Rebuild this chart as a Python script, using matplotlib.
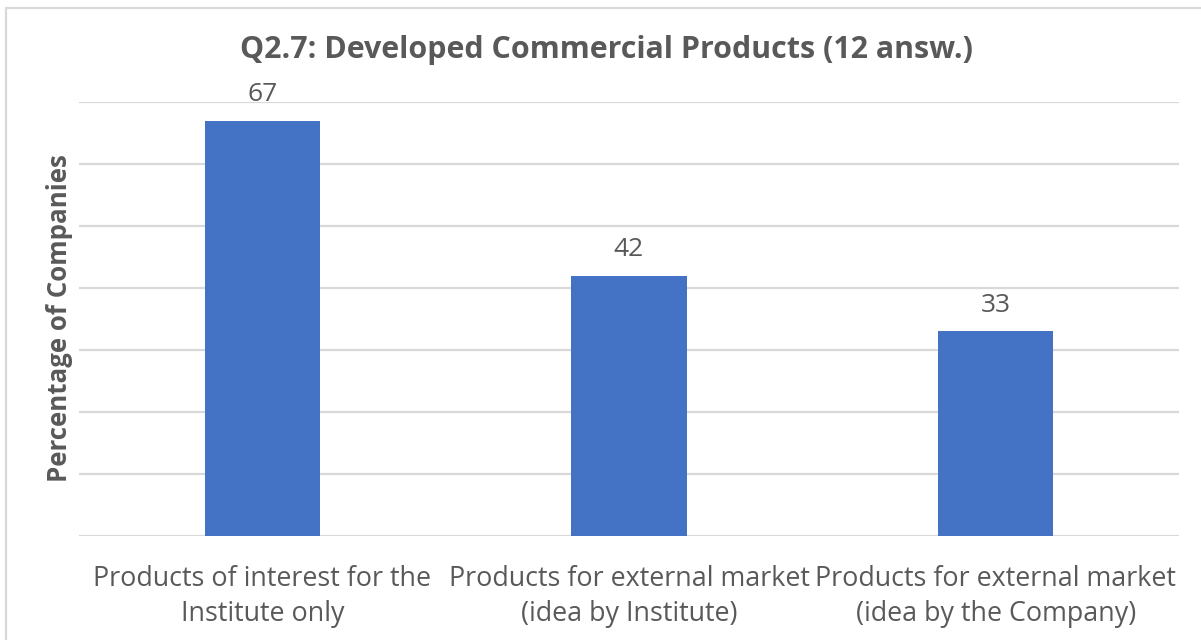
import matplotlib.pyplot as plt
from matplotlib.patches import Rectangle

# Share of companies per product type (percent)
categories = [
    "Products of interest for the\nInstitute only",
    "Products for external market\n(idea by Institute)",
    "Products for external market\n(idea by the Company)",
]
values = [67, 42, 33]

text_color = "#595959"
bar_color = "#4472C4"
grid_color = "#D9D9D9"

plt.rcParams["font.family"] = ["Open Sans", "DejaVu Sans"]

fig = plt.figure(figsize=(12.01, 6.40), dpi=100)
ax = fig.add_axes([79 / 1201, 1 - 536 / 640, 1100 / 1201, 434 / 640])

x = range(len(values))
bars = ax.bar(x, values, width=0.315, color=bar_color, zorder=3)

ax.set_xlim(-0.5, 2.5)
ax.set_ylim(0, 70)
ax.set_yticks(range(0, 71, 10))
ax.yaxis.grid(True, color=grid_color, linewidth=1.6, zorder=0)
ax.tick_params(axis="y", length=0, labelleft=False)
ax.set_xticks(list(x))
ax.set_xticklabels(categories, fontsize=19.4, color=text_color, linespacing=1.33)
ax.tick_params(axis="x", length=0, pad=21)
for side in ["top", "right", "left", "bottom"]:
    ax.spines[side].set_visible(False)

for b, v in zip(bars, values):
    ax.annotate(str(v), (b.get_x() + b.get_width() / 2, v), xytext=(0, 10),
                textcoords="offset points", ha="center", va="bottom",
                fontsize=19, color=text_color)

fig.text(606 / 1201, 1 - 50 / 640, "Q2.7: Developed Commercial Products (12 answ.)",
         ha="center", va="center", fontsize=21.9, fontweight="bold", color=text_color)
fig.text(60 / 1201, 1 - 318 / 640, "Percentage of Companies", rotation=90,
         ha="center", va="center", fontsize=18.6, fontweight="bold", color=text_color)

# chart frame
fig.patches.append(Rectangle((6 / 1201, -0.1), 1.2, 1.1 - 8 / 640,
                             transform=fig.transFigure, fill=False,
                             edgecolor=grid_color, linewidth=1.6))

fig.savefig("out.png", dpi=100)
